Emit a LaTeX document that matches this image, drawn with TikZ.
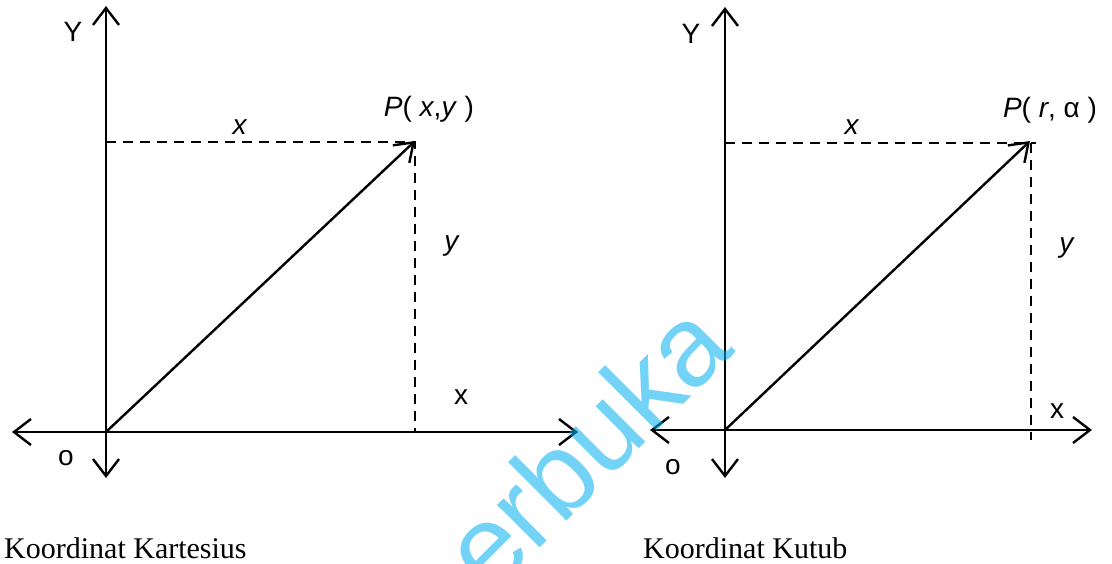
\documentclass[tikz,border=0pt]{standalone}
\usepackage{fontspec}
\setmainfont{Liberation Serif}
\newfontfamily\lblsans{Liberation Sans}
\usetikzlibrary{arrows.meta}
\definecolor{wmblue}{RGB}{0,175,240}
\tikzset{
  axis/.style={line width=2.6pt, {Straight Barb[length=17pt,width=26pt,line width=2.4pt]}-{Straight Barb[length=17pt,width=26pt,line width=2.4pt]}},
  vec/.style={line width=2.4pt, -{Straight Barb[length=17pt,width=24pt,line width=2.4pt]}},
  guide/.style={line width=1.9pt, dash pattern=on 10pt off 7pt},
  lbl/.style={font=\lblsans\fontsize{28}{30}\selectfont, inner sep=0pt},
  captxt/.style={font=\fontsize{30}{33}\selectfont, inner sep=0pt, anchor=west},
  wm/.style={font=\lblsans\fontsize{114}{114}\selectfont, text=wmblue, text opacity=0.55, inner sep=0pt, anchor=base west, rotate=45}
}
\begin{document}
\begin{tikzpicture}[x=1pt,y=-1pt]
\useasboundingbox (0,0) rectangle (1112,563);
% ---------- left: Cartesian ----------
\coordinate (LYt) at (106,6);
\coordinate (LYb) at (106,478);
\coordinate (LXl) at (12,432);
\coordinate (LXr) at (578,432);
\coordinate (LO) at (106,432);
\coordinate (LP) at (415,141);
\coordinate (LPy) at (106,142);
\coordinate (LPc) at (415,142);
\coordinate (LPx) at (415,432);
\draw[axis] (LYb) -- (LYt);
\draw[axis] (LXl) -- (LXr);
\draw[guide] (LPy) -- (LPc) -- (LPx);
\draw[vec] (LO) -- (LP);
\node[lbl] (lY) at (73,32) {Y};
\node[lbl] (lP) at (429,109) {\textit{P}( \textit{x},\textit{y} )};
\node[lbl] (lx) at (240,127) {\textit{x}};
\node[lbl] (ly) at (452,246) {\textit{y}};
\node[lbl] (lX) at (461,397) {x};
\node[lbl] (lo) at (66,458) {o};
\node[captxt] (lcap) at (4,548) {Koordinat Kartesius};
% ---------- right: polar ----------
\coordinate (RYt) at (725,7);
\coordinate (RYb) at (725,478);
\coordinate (RXl) at (650,430);
\coordinate (RXr) at (1092,430);
\coordinate (RO) at (725,430);
\coordinate (RP) at (1030,141);
\coordinate (RPy) at (725,143);
\coordinate (RPe) at (1036,143);
\coordinate (RPt) at (1031,143);
\coordinate (RPb) at (1031,440);
\draw[axis] (RYb) -- (RYt);
\draw[axis] (RXl) -- (RXr);
\draw[guide] (RPy) -- (RPe);
\draw[guide] (RPt) -- (RPb);
\draw[vec] (RO) -- (RP);
\node[lbl] (rY) at (691,34) {Y};
\node[lbl] (rP) at (1050,110) {\textit{P}( \textit{r}, α )};
\node[lbl] (rx) at (852,127) {\textit{x}};
\node[lbl] (ry) at (1067,248) {\textit{y}};
\node[lbl] (rX) at (1057,411) {x};
\node[lbl] (ro) at (673,467) {o};
\node[captxt] (rcap) at (643,548) {Koordinat Kutub};
% ---------- watermark ----------
\begin{scope}
\clip (0,0) rectangle (1112,563);
\node[wm] (wmark) at (490,598) {erbuka};
\end{scope}
\end{tikzpicture}
\end{document}
